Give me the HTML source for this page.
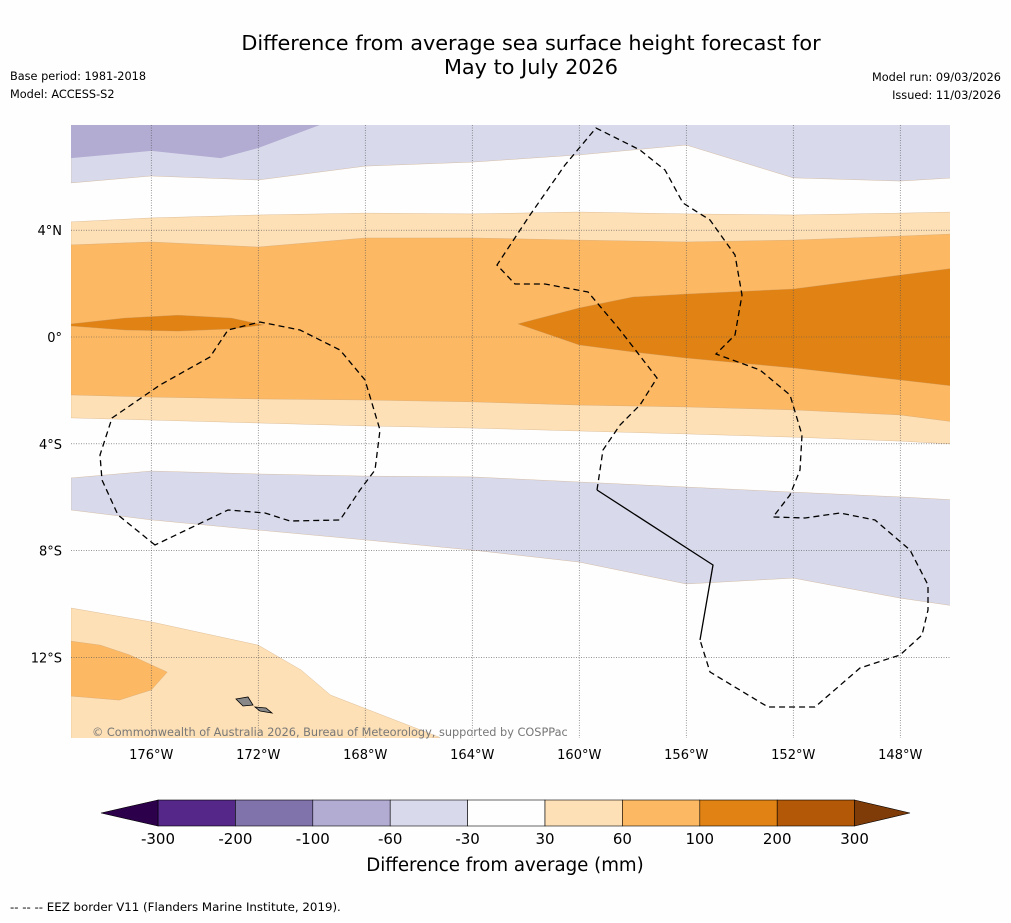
<!DOCTYPE html>
<html><head><meta charset="utf-8"><style>
body{margin:0;background:#fefefe;font-family:"DejaVu Sans","Liberation Sans",sans-serif;}
svg text{font-family:"DejaVu Sans","Liberation Sans",sans-serif;}
</style></head><body>
<svg id="c" width="1011" height="919" xmlns="http://www.w3.org/2000/svg">
<rect width="1011" height="919" fill="#fefefe"/>
<text x="531" y="50" font-size="20.8" text-anchor="middle">Difference from average sea surface height forecast for</text>
<text x="531" y="74" font-size="20.8" text-anchor="middle">May to July 2026</text>
<text x="10" y="80" font-size="11.3">Base period: 1981-2018</text>
<text x="10" y="98" font-size="11.3">Model: ACCESS-S2</text>
<text x="1001" y="81" font-size="11.3" text-anchor="end">Model run: 09/03/2026</text>
<text x="1001" y="99" font-size="11.3" text-anchor="end">Issued: 11/03/2026</text>
<defs><clipPath id="mc"><rect x="71" y="125" width="879" height="613"/></clipPath></defs>
<g id="map" clip-path="url(#mc)"><rect x="71" y="125" width="879" height="613" fill="#fefefe"/></g>
<g id="grid"></g>
<g id="eez" fill="none" stroke="#000" stroke-width="1.3">
<path stroke-dasharray="6,4" d="M155,545 L118,515 L102,480 L100,455 L112,418 L160,385 L210,357 L228,330 L260,322 L300,330 L340,350 L365,380 L380,430 L375,470 L360,490 L340,520 L290,521 L265,513 L228,510 Z"/>
<path stroke-dasharray="6,4" d="M597,490 L603,450 L620,425 L640,405 L657,378 L620,330 L588,292 L545,284 L515,284 L497,265 L530,215 L565,165 L596,128 L640,150 L665,170 L683,203 L710,220 L735,255 L742,295 L735,335 L716,354 L760,370 L790,395 L802,435 L800,470 L790,495 L773,517 L805,518 L840,513 L875,520 L910,550 L928,585 L928,610 L922,635 L900,655 L860,668 L815,707 L768,707 L710,672 L700,640"/>
<path d="M597,490 L713,565 L700,640"/>
</g>
<g fill="#888" stroke="#000" stroke-width="0.8">
<path d="M236,699 L248,697 L253,705 L243,706 Z"/><path d="M255,707 L266,708 L272,713 L260,711 Z"/>
</g>
<text x="92" y="736" font-size="11.3" fill="#777">© Commonwealth of Australia 2026, Bureau of Meteorology, supported by COSPPac</text>
<g id="axes" font-size="13"></g>
<g id="cbar"></g>
<text x="505" y="871" font-size="18.2" text-anchor="middle">Difference from average (mm)</text>
<text x="10" y="911" font-size="11.8">--  --  -- EEZ border V11 (Flanders Marine Institute, 2019).</text>
</svg>
<script>
const lons=[-179,-176,-172,-168,-164,-160,-156,-152,-148,-146];
const lavTopLower=[5.77,6.03,5.88,6.40,6.55,6.82,7.19,5.96,5.84,5.96];
const ltOrTop=[4.31,4.46,4.57,4.64,4.61,4.68,4.61,4.57,4.64,4.68];
const orTop=[3.45,3.56,3.37,3.71,3.71,3.63,3.56,3.63,3.78,3.86];
const orBot=[-2.17,-2.25,-2.32,-2.36,-2.43,-2.55,-2.62,-2.73,-2.92,-3.18];
const ltOrBot=[-3.03,-3.11,-3.22,-3.33,-3.41,-3.52,-3.63,-3.75,-3.90,-4.01];
const lavLowTop=[-5.28,-5.02,-5.13,-5.21,-5.24,-5.43,-5.62,-5.81,-5.99,-6.10];
const lavLowBot=[-6.48,-6.85,-7.23,-7.60,-7.98,-8.43,-9.25,-9.03,-9.78,-10.07];
const purpLons=[-179,-176,-173.4,-172,-169.7];
const purpLats=[6.70,6.97,6.70,7.08,7.94];
const dkLons=[-162.3,-160,-158,-156,-152,-148,-146];
const dkTop=[0.49,1.09,1.50,1.61,1.80,2.32,2.58];
const dkBot=[0.49,-0.30,-0.56,-0.79,-1.16,-1.61,-1.84];
const dk2Lons=[-179,-177,-175,-173,-171.8];
const dk2Top=[0.49,0.71,0.82,0.71,0.45];
const dk2Bot=[0.41,0.26,0.22,0.30,0.45];
const swLons=[-179,-176,-172,-170.4,-169.3,-166.7,-165.2];
const swLats=[-10.15,-10.67,-11.54,-12.47,-13.41,-14.42,-15.0];
const swInLons=[-179,-177.9,-176.8,-175.4,-176.0,-177.2,-179];
const swInLats=[-11.39,-11.54,-11.91,-12.55,-13.22,-13.60,-13.45];
const levels=[-300,-200,-100,-60,-30,30,60,100,200,300];
const colors=["#542788","#8073ac","#b2abd2","#d8daeb","#fefefe","#fee0b6","#fdb863","#e08214","#b35806"];
const xTicks=[-176,-172,-168,-164,-160,-156,-152,-148];
const yTicks=[4,0,-4,-8,-12];
const X=l=>71+(l+179)*26.75, Y=l=>337-l*26.7;
const NS="http://www.w3.org/2000/svg";
function el(t,a,p){const e=document.createElementNS(NS,t);for(const k in a)e.setAttribute(k,a[k]);p.appendChild(e);return e;}
const map=document.getElementById('map');
function band(ls,top,bot,fill,name){
 let d="M"+ls.map((l,i)=>X(l)+","+Y(top[i])).join(" L");
 d+=" L"+ls.slice().reverse().map((l,i)=>X(l)+","+Y(bot[bot.length-1-i])).join(" L")+" Z";
 const p=el('path',{d:d,fill:fill,stroke:"#c8a070","stroke-width":0.3},map);
 
 
}
const top8=lons.map(()=>8.5);
band(lons,top8,lavTopLower,colors[3],'band-lavender-north');
(function(){let d="M"+X(-179)+","+Y(8.5)+" L"+purpLons.map((l,i)=>X(l)+","+Y(purpLats[i])).join(" L")+" Z";
const p=el('path',{d:d,fill:colors[2]},map);

})();
band(lons,ltOrTop,ltOrBot,colors[5],'band-light-orange');
band(lons,orTop,orBot,colors[6],'band-orange');
band(dkLons,dkTop,dkBot,colors[7],'blob-dark-orange-east');
band(dk2Lons,dk2Top,dk2Bot,colors[7],'blob-dark-orange-west');
band(lons,lavLowTop,lavLowBot,colors[3],'band-lavender-south');
(function(){let d="M"+swLons.map((l,i)=>X(l)+","+Y(swLats[i])).join(" L")+" L"+X(-179)+","+Y(-16)+" Z";
const p=el('path',{d:d,fill:colors[5],stroke:"#c8a070","stroke-width":0.3},map);


d="M"+swInLons.map((l,i)=>X(l)+","+Y(swInLats[i])).join(" L")+" Z";
const q=el('path',{d:d,fill:colors[6],stroke:"#c8a070","stroke-width":0.3},map);

})();
const grid=document.getElementById('grid'), axes=document.getElementById('axes');
xTicks.forEach(t=>{const l=el('line',{x1:X(t),x2:X(t),y1:125,y2:738,stroke:"#555","stroke-width":0.6,"stroke-dasharray":"1,1.5"},grid);


const tx=el('text',{x:X(t),y:759,"text-anchor":"middle"},axes);tx.textContent=Math.abs(t)+"°W";

});
yTicks.forEach(t=>{const l=el('line',{x1:71,x2:950,y1:Y(t),y2:Y(t),stroke:"#555","stroke-width":0.6,"stroke-dasharray":"1,1.5"},grid);


const tx=el('text',{x:62,y:Y(t)+5,"text-anchor":"end"},axes);tx.textContent=t===0?"0°":Math.abs(t)+"°"+(t>0?"N":"S");

});
const cb=document.getElementById('cbar');
const cx0=158,cw=77.4,cy=800,ch=26;
colors.forEach((c,i)=>{const r=el('rect',{x:cx0+i*cw,y:cy,width:cw,height:ch,fill:c,stroke:"#000","stroke-width":0.6},cb);

});
const lt=el('path',{d:`M${cx0},${cy} L101,${cy+ch/2} L${cx0},${cy+ch} Z`,fill:"#2d004b",stroke:"#000","stroke-width":0.6},cb);


const xe=cx0+colors.length*cw;
const rt=el('path',{d:`M${xe},${cy} L910,${cy+ch/2} L${xe},${cy+ch} Z`,fill:"#7f3b08",stroke:"#000","stroke-width":0.6},cb);


levels.forEach((v,i)=>{const t=el('text',{x:cx0+i*cw,y:844,"font-size":15,"text-anchor":"middle"},cb);t.textContent=v;

});
</script>
</body></html>
